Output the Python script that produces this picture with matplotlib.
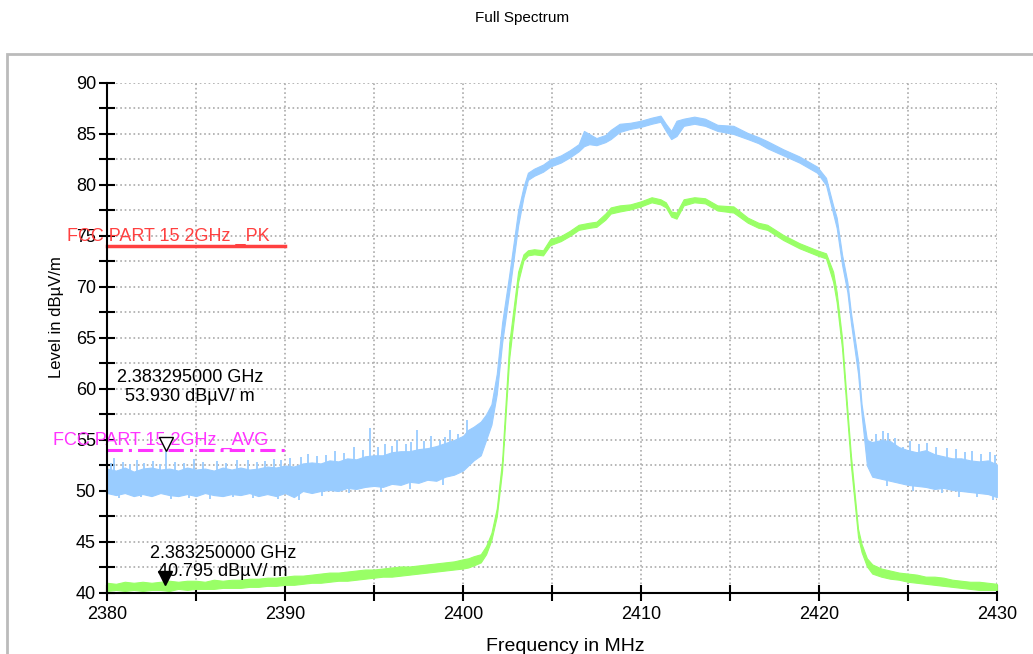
import matplotlib
matplotlib.use('Agg')
import matplotlib.pyplot as plt
import matplotlib.patches as patches
import matplotlib.transforms as mtransforms
from matplotlib.ticker import MultipleLocator

plt.rcParams['font.family'] = ['Liberation Sans', 'DejaVu Sans']

# Frecuencias (MHz) donde se leyeron las trazas
freq = [2380.0, 2380.5, 2381.0, 2381.5, 2382.0, 2382.5, 2383.0, 2383.5, 2384.0, 2384.5,
        2385.0, 2385.5, 2386.0, 2386.5, 2387.0, 2387.5, 2388.0, 2388.5, 2389.0, 2389.5,
        2390.0, 2390.5, 2391.0, 2391.5, 2392.0, 2392.5, 2393.0, 2393.5, 2394.0, 2394.5,
        2395.0, 2395.5, 2396.0, 2396.5, 2397.0, 2397.5, 2398.0, 2398.5, 2399.0, 2399.5,
        2400.0, 2400.3, 2400.6, 2401.0, 2401.3, 2401.6, 2401.9, 2402.2, 2402.6, 2403.1,
        2403.4, 2403.65, 2404.0, 2404.5, 2404.9, 2405.5, 2406.0, 2406.5, 2406.8, 2407.1,
        2407.5, 2408.0, 2408.3, 2408.8, 2409.4, 2410.0, 2410.6, 2411.1, 2411.4, 2411.7,
        2412.0, 2412.4, 2413.0, 2413.6, 2414.3, 2415.2, 2416.0, 2416.6, 2417.1, 2418.0,
        2418.9, 2419.9, 2420.4, 2420.8, 2421.0, 2421.3, 2421.6, 2421.8, 2422.2, 2422.4,
        2422.7, 2423.0, 2423.5, 2424.0, 2424.5, 2425.0, 2425.5, 2426.0, 2426.5, 2427.0,
        2427.5, 2428.0, 2428.5, 2429.0, 2429.5, 2430.0]

# Traza de pico (azul): borde inferior y superior
pk_lo = [49.8, 49.6, 49.8, 49.5, 49.7, 49.5, 49.8, 49.6, 49.5, 49.7,
         49.5, 49.8, 49.6, 49.5, 49.7, 49.6, 49.8, 49.5, 49.7, 49.5,
         49.8, 49.4, 50.0, 49.8, 50.0, 50.1, 50.0, 50.3, 50.2, 50.4,
         50.5, 50.4, 50.7, 50.6, 50.9, 50.8, 51.1, 51.0, 51.4, 51.6,
         52.0, 52.5, 53.0, 53.5, 55.0, 56.5, 59.5, 64.5, 69.5, 76.0,
         78.8, 80.5, 80.9, 81.3, 81.8, 82.2, 82.7, 83.3, 83.8, 84.0,
         83.9, 84.2, 84.5, 85.2, 85.5, 85.7, 86.0, 86.2, 85.3, 84.5,
         84.8, 85.8, 86.0, 85.8, 85.3, 85.0, 84.5, 84.1, 83.6, 82.9,
         82.2, 81.2, 80.0, 77.2, 75.8, 72.2, 69.5, 66.5, 61.5, 57.5,
         52.5, 51.4, 51.2, 51.0, 50.8, 50.6, 50.5, 50.4, 50.2, 50.3,
         50.1, 50.0, 49.9, 49.8, 49.7, 49.4]
pk_hi = [52.2, 52.0, 52.3, 51.9, 52.2, 52.3, 52.1, 52.2, 52.0, 52.3,
         52.1, 52.2, 52.0, 52.3, 52.1, 52.3, 52.1, 52.2, 52.4, 52.3,
         52.5, 52.4, 52.7, 52.8, 52.7, 53.0, 52.9, 53.2, 53.1, 53.4,
         53.5, 53.5, 53.8, 53.9, 53.9, 54.1, 54.2, 54.4, 54.7, 55.0,
         55.4, 56.0, 56.3, 56.8, 57.5, 58.5, 61.5, 66.5, 71.2, 77.5,
         79.8, 81.2, 81.6, 82.0, 82.5, 82.9, 83.4, 84.0, 85.3, 85.0,
         84.6, 84.9, 85.4, 86.0, 86.1, 86.3, 86.6, 86.8, 86.0, 85.3,
         86.3, 86.5, 86.7, 86.5, 85.9, 85.8, 85.1, 84.7, 84.3, 83.5,
         82.8, 81.8, 80.7, 78.0, 76.8, 73.2, 70.5, 67.5, 62.8, 58.5,
         55.0, 54.8, 55.0, 54.9, 54.3, 54.0, 53.8, 54.0, 53.6, 53.4,
         53.2, 53.2, 53.0, 52.9, 53.0, 52.6]

# Traza promedio (verde)
av_lo = [40.2, 40.3, 40.2, 40.3, 40.2, 40.3, 40.3, 40.2, 40.4, 40.3,
         40.4, 40.4, 40.4, 40.5, 40.5, 40.5, 40.6, 40.6, 40.7, 40.7,
         40.8, 40.8, 40.9, 41.0, 41.0, 41.1, 41.2, 41.2, 41.3, 41.4,
         41.5, 41.6, 41.6, 41.7, 41.8, 41.9, 42.0, 42.1, 42.2, 42.3,
         42.4, 42.5, 42.7, 43.0, 43.8, 45.2, 47.5, 52.0, 63.0, 70.5,
         72.6, 73.1, 73.2, 73.1, 74.1, 74.5, 75.0, 75.6, 75.7, 75.8,
         75.9, 76.6, 77.2, 77.4, 77.6, 77.9, 78.3, 78.1, 77.8, 76.9,
         76.7, 78.0, 78.3, 78.2, 77.5, 77.3, 76.3, 75.8, 75.6, 74.6,
         73.8, 73.1, 72.8, 70.5, 68.5, 64.0, 57.0, 52.5, 45.5, 44.0,
         42.6, 41.9, 41.6, 41.4, 41.3, 41.1, 41.0, 40.9, 40.8, 40.7,
         40.6, 40.5, 40.4, 40.3, 40.3, 40.3]
av_hi = [41.0, 40.9, 41.1, 41.0, 41.1, 41.0, 41.1, 41.2, 41.1, 41.2,
         41.2, 41.1, 41.3, 41.2, 41.3, 41.3, 41.4, 41.4, 41.5, 41.5,
         41.6, 41.7, 41.7, 41.8, 41.9, 42.0, 42.0, 42.1, 42.2, 42.3,
         42.3, 42.4, 42.5, 42.6, 42.6, 42.7, 42.8, 42.9, 43.0, 43.1,
         43.3, 43.4, 43.6, 43.8, 44.6, 45.9, 48.3, 53.0, 64.5, 71.5,
         73.2, 73.6, 73.7, 73.6, 74.7, 75.0, 75.5, 76.1, 76.2, 76.3,
         76.4, 77.2, 77.8, 78.0, 78.1, 78.4, 78.8, 78.6, 78.3, 77.4,
         77.3, 78.6, 78.8, 78.7, 78.0, 77.9, 76.8, 76.3, 76.1, 75.1,
         74.3, 73.6, 73.3, 71.5, 69.5, 65.0, 58.0, 53.5, 46.3, 44.8,
         43.4, 42.8, 42.4, 42.2, 42.0, 41.9, 41.8, 41.6, 41.6, 41.5,
         41.3, 41.2, 41.1, 41.1, 41.0, 40.9]

# Picos sueltos del ruido en la traza azul (hacia arriba)
spike_up_f = [2380.2, 2380.4, 2380.9, 2381.3, 2381.7, 2382.1, 2382.6, 2383.0, 2383.3, 2383.8,
              2384.3, 2384.9, 2385.4, 2386.2, 2386.7, 2387.3, 2387.9, 2388.4, 2388.9, 2389.4,
              2389.8, 2390.3, 2390.9, 2391.3, 2391.8, 2392.3, 2392.8, 2393.3, 2393.9, 2394.4,
              2394.8, 2395.2, 2395.6, 2396.0, 2396.3, 2396.8, 2397.1, 2397.4, 2397.8, 2398.2,
              2398.7, 2399.0, 2399.3, 2399.7, 2400.2, 2423.2, 2423.6, 2423.9, 2424.3, 2424.7,
              2425.1, 2425.6, 2426.1, 2426.6, 2427.2, 2427.7, 2428.2, 2428.6, 2429.1, 2429.6,
              2429.9]
spike_up_v = [52.7, 53.2, 52.8, 52.6, 53.0, 52.7, 52.9, 52.6, 53.9, 52.8,
              52.7, 53.1, 52.8, 52.9, 52.7, 53.0, 53.0, 52.8, 52.9, 53.1,
              53.0, 53.2, 53.3, 53.6, 53.4, 53.5, 53.9, 53.7, 54.3, 54.0,
              56.2, 54.3, 54.6, 54.4, 55.0, 54.6, 54.8, 56.0, 54.9, 55.4,
              55.0, 55.3, 56.0, 55.6, 57.0, 55.6, 55.9, 55.7, 55.2, 54.3,
              54.9, 54.6, 54.7, 54.3, 54.2, 54.1, 53.8, 53.9, 53.6, 53.8,
              53.5]
# Picos hacia abajo
spike_dn_f = [2380.7, 2381.9, 2383.6, 2384.6, 2385.8, 2387.1, 2388.2, 2389.6, 2390.8, 2392.1,
              2393.6, 2395.4, 2397.0, 2398.9, 2423.8, 2425.3, 2426.9, 2427.9, 2428.9, 2429.8]
spike_dn_v = [49.3, 49.4, 49.2, 49.3, 49.2, 49.4, 49.3, 49.2, 49.1, 49.5,
              49.8, 49.9, 50.2, 50.6, 50.5, 50.0, 49.8, 49.4, 49.4, 49.1]

# Lineas limite
lim_f = [2380, 2390]
lim_pk = 74
lim_av = 54

# Marcadores
mk_pk_f, mk_pk_v = 2383.295, 53.930
mk_av_f, mk_av_v = 2383.250, 40.795

azul = '#99CCFF'
verde = '#99FF66'

fig = plt.figure(figsize=(10.33, 6.54), dpi=100)
ax = fig.add_axes([0.1036, 0.0933, 0.8614, 0.7798])

# Marco gris de fondo
fig.patches.append(patches.Rectangle((7 / 1033., -0.1), 1.2, 1.0174, transform=fig.transFigure,
                                     fill=False, edgecolor='#BBBBBB', linewidth=2, zorder=0))

fig.text(0.505, 0.972, 'Full Spectrum', ha='center', va='center', fontsize=11)

# Trazas
ax.fill_between(freq, pk_lo, pk_hi, color=azul, linewidth=0.8, edgecolor=azul, zorder=3)
centro = [(a + b) / 2. for a, b in zip(pk_lo, pk_hi)]


def centro_en(f):
    # centro de la banda en el punto leido mas cercano
    i = min(range(len(freq)), key=lambda k: abs(freq[k] - f))
    return centro[i]


ax.vlines(spike_up_f, [centro_en(f) for f in spike_up_f], spike_up_v,
          color=azul, linewidth=1.3, zorder=3)
ax.vlines(spike_dn_f, [centro_en(f) for f in spike_dn_f], spike_dn_v,
          color=azul, linewidth=1.3, zorder=3)
ax.fill_between(freq, av_lo, av_hi, color=verde, linewidth=0.8, edgecolor=verde, zorder=4)

# Limites
ax.plot(lim_f, [lim_pk, lim_pk], color='#FF4040', linewidth=2.5, zorder=5, clip_on=False)
ax.plot(lim_f, [lim_av, lim_av], color='#FF33FF', linewidth=2.2, linestyle=(0, (5, 2, 1, 2)),
        zorder=5, clip_on=False)
ax.text(2377.75, lim_pk + 1.0, 'FCC PART 15 2GHz _PK', color='#FF4040', fontsize=13,
        ha='left', va='center', zorder=6, clip_on=False)
ax.text(2376.95, lim_av + 1.0, 'FCC PART 15 2GHz _AVG', color='#FF33FF', fontsize=13,
        ha='left', va='center', zorder=6, clip_on=False)

# Marcadores
arriba = mtransforms.offset_copy(ax.transData, fig=fig, y=5, units='points')
ax.plot([mk_pk_f], [mk_pk_v], marker='v', markersize=10, markerfacecolor='white',
        markeredgecolor='black', markeredgewidth=1, transform=arriba, zorder=7, clip_on=False)
ax.plot([mk_av_f], [mk_av_v], marker='v', markersize=10, color='black',
        transform=arriba, zorder=7, clip_on=False)
ax.text(2384.65, 60.2, '%.9f GHz\n%.3f dBµV/ m' % (mk_pk_f / 1000., mk_pk_v),
        ha='center', va='center', fontsize=13, zorder=7, linespacing=1.1)
ax.text(2386.5, 43.0, '%.9f GHz\n%.3f dBµV/ m' % (mk_av_f / 1000., mk_av_v),
        ha='center', va='center', fontsize=13, zorder=7, linespacing=1.1)

# Ejes
ax.set_xlim(2380, 2430)
ax.set_ylim(40, 90)
ax.xaxis.set_major_locator(MultipleLocator(10))
ax.xaxis.set_minor_locator(MultipleLocator(5))
ax.yaxis.set_major_locator(MultipleLocator(5))
ax.yaxis.set_minor_locator(MultipleLocator(2.5))
ax.tick_params(which='both', direction='inout', width=1.5, length=12, labelsize=13)
ax.tick_params(axis='y', pad=2)
ax.grid(True, which='both', linestyle=':', color='#AAAAAA', linewidth=1.2)
ax.set_axisbelow(True)
for s in ['top', 'right']:
    ax.spines[s].set_visible(False)
for s in ['left', 'bottom']:
    ax.spines[s].set_linewidth(1.5)
    ax.spines[s].set_zorder(8)

fig.text(0.055, 0.515, 'Level in dBµV/m', rotation=90, ha='center', va='center', fontsize=12)
fig.text(0.547, 0.012, 'Frequency in MHz', ha='center', va='center', fontsize=14)

fig.savefig('out.png', dpi=100)
